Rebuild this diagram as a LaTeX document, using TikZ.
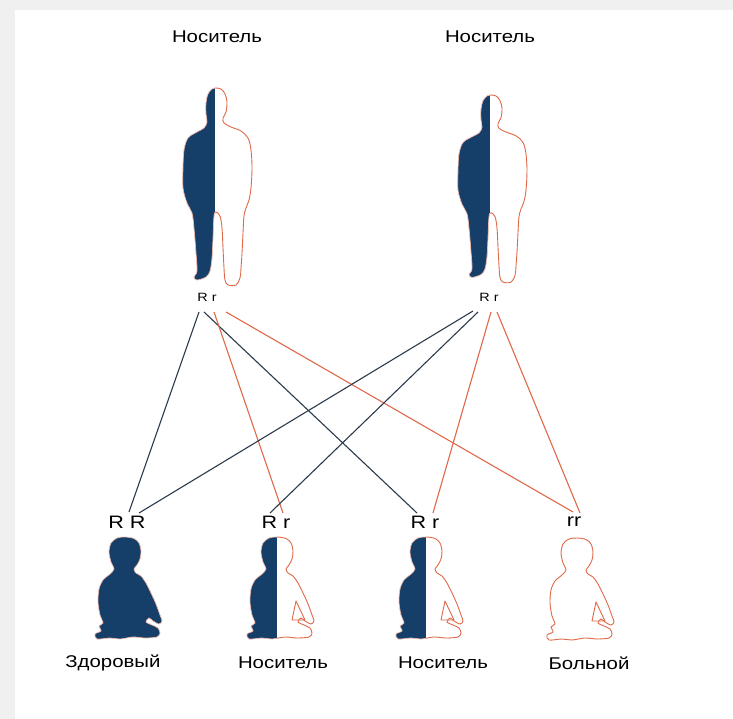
\documentclass[tikz,border=0pt]{standalone}
\usepackage{fontspec}
\setmainfont{Liberation Sans}[FakeStretch=1.2]
\definecolor{navy}{HTML}{153F68}
\definecolor{rust}{HTML}{E0694A}
\definecolor{wire}{HTML}{2C3B4C}
\definecolor{frame}{HTML}{F0F0F0}

% standing adult silhouette; origin at top of head on the split line, y grows downward
\newcommand\adultshape{plot[smooth cycle, tension=0.55] coordinates {
 (0,0) (6,1) (10,6) (12,14) (11,24) (8,30) (9,35) (16,39) (26,43) (33,50) (36,62) (37,80)
 (36,100) (34,112) (31,120) (29,128) (28,145) (27,165) (26,180) (25,190) (21,197) (13,197)
 (10,192) (9,180) (8,160) (7,140) (5,128) (1,124) (-1,128) (-2,150) (-3,170) (-5,183)
 (-9,189) (-18,192) (-21,189) (-18,183) (-19,165) (-21,140) (-23,125) (-28,115) (-32,100)
 (-32,80) (-31,62) (-27,50) (-18,44) (-11,40) (-8,34) (-9,26) (-9,15) (-7,6) (-3,1)}}

% sitting baby silhouette; origin at top of head on the split line
\newcommand\babyshape{plot[smooth cycle, tension=0.5] coordinates {
 (0,0) (9,1.5) (14,6) (16,14) (15,22) (12,28) (9,32) (11,36) (16,39) (21,46) (26,56)
 (31,67) (35,78) (37,84) (34,87) (28,84) (24,81) (21,85) (27,88) (33,91) (35,96) (32,100)
 (20,101) (8,100) (-5,102) (-15,101) (-28,102) (-30,97) (-24,94) (-26,89) (-22,86)
 (-25,78) (-27,65) (-26,52) (-22,43) (-15,37) (-11,32) (-14,25) (-16,15) (-14,6) (-8,1)}}

\tikzset{
 caption/.style={font=\fontsize{17}{17}\selectfont, inner sep=1pt},
 geno/.style={font=\fontsize{18}{18}\selectfont, inner sep=1pt},
 pgeno/.style={font=\fontsize{12}{12}\selectfont, inner sep=1pt},
 domline/.style={draw=wire, line width=1.1pt},
 recline/.style={draw=rust, line width=1.1pt},
 halo/.style={draw=rust!45, line width=0.7pt},
 outl/.style={draw=rust, line width=0.9pt},
 carrieradult/.pic={
  \begin{scope}
   \clip (-60,-10) rectangle (0,220);
   \fill[navy] \adultshape;
   \draw[halo] \adultshape;
  \end{scope}
  \begin{scope}
   \clip (0,-10) rectangle (60,220);
   \fill[white] \adultshape;
   \draw[outl] \adultshape;
  \end{scope}
 },
 healthybaby/.pic={
  \fill[navy] \babyshape;
  \draw[halo] \babyshape;
 },
 carrierbaby/.pic={
  \begin{scope}
   \clip (-40,-10) rectangle (0,110);
   \fill[navy] \babyshape;
   \draw[halo] \babyshape;
  \end{scope}
  \begin{scope}
   \clip (0,-10) rectangle (40,110);
   \fill[white] \babyshape;
   \draw[outl] \babyshape;
   \draw[outl, line join=round] (19,64) -- (15,83) -- (28,83) -- cycle;
  \end{scope}
 },
 sickbaby/.pic={
  \fill[white] \babyshape;
  \draw[outl] \babyshape;
  \draw[outl, line join=round] (19,64) -- (15,83) -- (28,83) -- cycle;
 },
}

\begin{document}
\begin{tikzpicture}[x=1pt, y=-1pt]
 % page frame
 \fill[frame] (0,0) rectangle (733,719);
 \fill[white] (15,10) rectangle (733,719);
 \path[use as bounding box] (0,0) rectangle (733,719);

 % parents
 \node[caption] (capL) at (217,37) {Носитель};
 \node[caption] (capR) at (490,37) {Носитель};
 \pic at (215,88) {carrieradult};
 \pic[yscale=0.95] at (490,95) {carrieradult};
 \node[pgeno] (pL) at (207,297) {R r};
 \node[pgeno] (pR) at (489,297) {R r};

 % gamete line ends under each parent
 \coordinate (lR1) at (199,312);
 \coordinate (lR2) at (204,312);
 \coordinate (lr1) at (214,312);
 \coordinate (lr2) at (226,312);
 \coordinate (rR1) at (473,311);
 \coordinate (rR2) at (478,312);
 \coordinate (rr1) at (491,312);
 \coordinate (rr2) at (497,312);

 % children
 \node[geno] (g1) at (127,522) {R R};
 \node[geno] (g2) at (276,522) {R r};
 \node[geno] (g3) at (425,522) {R r};
 \node[geno] (g4) at (574,522) {rr};
 \coordinate (c1a) at (129,512);
 \coordinate (c1b) at (139,513);
 \coordinate (c2a) at (270,513);
 \coordinate (c2b) at (283,513);
 \coordinate (c3a) at (417,513);
 \coordinate (c3b) at (433,513);
 \coordinate (c4a) at (573,512);
 \coordinate (c4b) at (580,513);

 \pic at (125,537) {healthybaby};
 \pic at (277,537) {carrierbaby};
 \pic at (426,537) {carrierbaby};
 \pic at (577,538) {sickbaby};

 \node[caption] (t1) at (113,663) {Здоровый};
 \node[caption] (t2) at (283,663) {Носитель};
 \node[caption] (t3) at (443,663) {Носитель};
 \node[caption] (t4) at (589,663) {Больной};

 % crosses
 \draw[domline] (lR1) -- (c1a);
 \draw[domline] (lR2) -- (c3a);
 \draw[recline] (lr1) -- (c2b);
 \draw[recline] (lr2) -- (c4a);
 \draw[domline] (rR1) -- (c1b);
 \draw[domline] (rR2) -- (c2a);
 \draw[recline] (rr1) -- (c3b);
 \draw[recline] (rr2) -- (c4b);
\end{tikzpicture}
\end{document}
